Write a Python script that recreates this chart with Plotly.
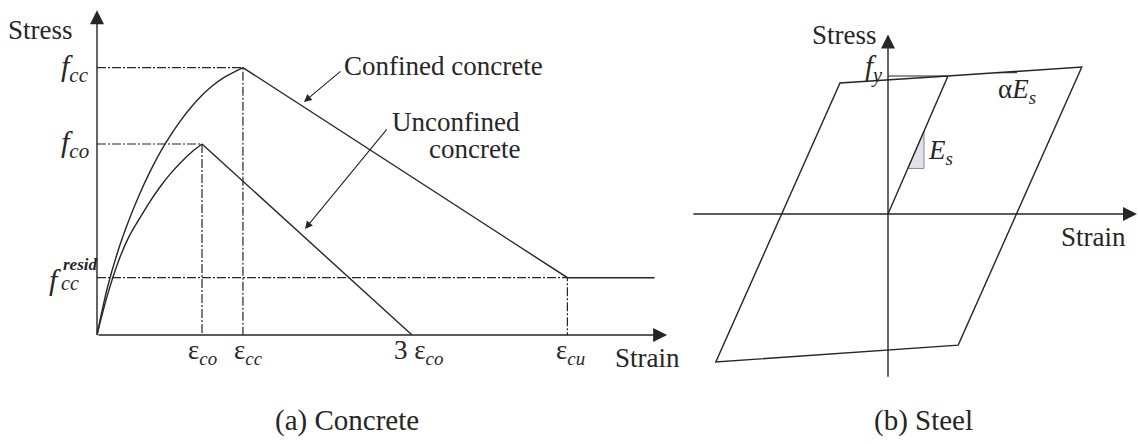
import plotly.graph_objects as go

# ---------------- data: concrete (strain / eps_co, stress / f_co) ----------------
eps_co = 1.0
eps_cc = 1.39
eps_cu = 4.48
eps_unconf_end = 3.0
eps_resid_end = 5.31
f_co = 1.0
f_cc = 1.40
f_resid = 0.30

conf_rise_strain = [0.0, 0.1, 0.2, 0.3, 0.4, 0.5, 0.6, 0.7, 0.8, 0.9, 1.0, 1.1, 1.2, 1.3, 1.39]
conf_rise_stress = [0.0, 0.25, 0.44, 0.595, 0.73, 0.85, 0.955, 1.045, 1.125, 1.195, 1.255, 1.305, 1.345, 1.375, 1.40]

unconf_rise_strain = [0.0, 0.1, 0.2, 0.3, 0.4, 0.5, 0.6, 0.7, 0.8, 0.9, 1.0]
unconf_rise_stress = [0.0, 0.21, 0.38, 0.51, 0.605, 0.695, 0.775, 0.845, 0.905, 0.957, 1.0]

# ---------------- data: steel (strain / eps_y, stress / f_y) ----------------
eps_y = 1.0
f_y = 1.0
loop_strain = [0.0, 1.0, 3.23, 1.17, -2.87, -0.80, 1.0]
loop_stress = [0.0, 1.0, 1.065, -0.95, -1.072, 0.949, 1.0]
es_tri_strain = [0.33, 0.60, 0.60, 0.33]
es_tri_stress = [0.33, 0.33, 0.60, 0.33]
alpha_strain = [1.82, 2.15]
alpha_stress = [1.024, 1.024]

# ---------------- drawing ----------------
W, H = 1138, 444
INK = "#262626"
FONT = "Liberation Serif"
LW = 1.4
DASH = "9px,2px,2px,2px"


def px(x):
    return x / W


def py(y):
    return 1 - y / H


fig = go.Figure()


def line(xs, ys, axes, dash=None, width=LW, shape="linear"):
    xa, ya = axes
    fig.add_trace(go.Scatter(
        x=xs, y=ys, xaxis=xa, yaxis=ya, mode="lines",
        line=dict(color=INK, width=width, dash=dash, shape=shape, smoothing=1.0),
        hoverinfo="skip", showlegend=False))


L = ("x", "y")
R = ("x2", "y2")

# reference lines
line([0, eps_cc, eps_cc], [f_cc, f_cc, 0], L, dash=DASH, width=1.2)
line([0, eps_co, eps_co], [f_co, f_co, 0], L, dash=DASH, width=1.2)
line([0, eps_cu, eps_cu], [f_resid, f_resid, 0], L, dash=DASH, width=1.2)

# confined concrete
line(conf_rise_strain, conf_rise_stress, L, shape="spline")
line([eps_cc, eps_cu, eps_resid_end], [f_cc, f_resid, f_resid], L)
# unconfined concrete
line(unconf_rise_strain, unconf_rise_stress, L, shape="spline")
line([eps_co, eps_unconf_end], [f_co, 0], L)

# steel
fig.add_trace(go.Scatter(
    x=es_tri_strain, y=es_tri_stress, xaxis="x2", yaxis="y2", mode="lines",
    fill="toself", fillcolor="#dfe2e8", line=dict(color="#8a8a8a", width=1),
    hoverinfo="skip", showlegend=False))
line(loop_strain, loop_stress, R)
line([0, eps_y], [f_y, f_y], R, width=1.1)
line(alpha_strain, alpha_stress, R, width=1.1)

ann = []


def arrow(x0, y0, x1, y1, xr, yr, head=2, size=1.0, width=LW):
    ann.append(dict(x=x1, y=y1, ax=x0, ay=y0, xref=xr, yref=yr, axref=xr, ayref=yr,
                    showarrow=True, arrowhead=head, arrowsize=size, arrowwidth=width,
                    arrowcolor=INK, text=""))


# axes with arrowheads
arrow(0, 0, 5.43, 0, "x", "y", size=2.0)
arrow(0, 0, 0, 1.70, "x", "y", size=2.0)
arrow(-3.27, 0, 4.15, 0, "x2", "y2", size=2.0)
arrow(0, -1.19, 0, 1.30, "x2", "y2", size=2.0)

# leaders
arrow(2.333, 1.387, 1.971, 1.220, "x", "y", size=1.4, width=1.1)
arrow(2.771, 1.084, 1.981, 0.555, "x", "y", size=1.4, width=1.1)


def text(s, x, y, xr="paper", yr="paper", xa="center", ya="middle", size=27, yshift=0, xshift=0):
    ann.append(dict(text=s, x=x, y=y, xref=xr, yref=yr, xanchor=xa, yanchor=ya,
                    showarrow=False, yshift=yshift, xshift=xshift,
                    font=dict(family=FONT, size=size, color=INK)))


# concrete labels
text("Stress", px(75), py(30), xa="right")
text("Strain", px(613), py(358), xa="left")
text("Confined concrete", px(342), py(66), xa="left")
text("Unconfined", px(522), py(122), xa="right")
text("concrete", px(522), py(149), xa="right")
text("<i>f</i><sub><i>cc</i></sub>", px(91), f_cc, yr="y", xa="right", size=30)
text("<i>f</i><sub><i>co</i></sub>", px(91), f_co, yr="y", xa="right", size=30)
text("<i>f</i>", px(63), f_resid, yr="y", xa="right", size=30, yshift=-2)
text("<i><b>resid</b></i>", px(61), f_resid, yr="y", xa="left", size=17, yshift=13)
text("<i>cc</i>", px(59), f_resid, yr="y", xa="left", size=20, yshift=-5)
text("ε<sub><i>co</i></sub>", eps_co, 0, xr="x", yr="y", size=27, yshift=-17)
text("ε<sub><i>cc</i></sub>", eps_cc, 0, xr="x", yr="y", size=27, yshift=-17, xshift=6)
text("3 ε<sub><i>co</i></sub>", eps_unconf_end, 0, xr="x", yr="y", size=27, yshift=-17, xshift=6)
text("ε<sub><i>cu</i></sub>", eps_cu, 0, xr="x", yr="y", size=27, yshift=-17, xshift=3)

# steel labels
text("Stress", px(879), py(35), xa="right")
text("Strain", px(1059), py(237), xa="left")
text("<i>f</i><sub><i>y</i></sub>", px(885), f_y, yr="y2", xa="right", size=29, yshift=8)
text("α<i>E</i><sub><i>s</i></sub>", px(996), py(91), xa="left", size=27)
text("<i>E</i><sub><i>s</i></sub>", px(926), py(152), xa="left", size=27)

# captions
text("(a) Concrete", px(347), py(420), size=29)
text("(b) Steel", px(923), py(420), size=29)

hidden = dict(visible=False, showgrid=False, zeroline=False, fixedrange=True)
fig.update_layout(
    width=W, height=H, margin=dict(l=0, r=0, t=0, b=0),
    paper_bgcolor="white", plot_bgcolor="white",
    font=dict(family=FONT, size=27, color=INK),
    xaxis=dict(domain=[0, 680 / W], range=[-97 / 105, (680 - 97) / 105], **hidden),
    yaxis=dict(domain=[0, 1], range=[-(H - 335) / 191, 335 / 191], **hidden),
    xaxis2=dict(domain=[680 / W, 1], range=[-(888 - 680) / 60, (W - 888) / 60], anchor="y2", **hidden),
    yaxis2=dict(domain=[0, 1], range=[-(H - 214) / 138, 214 / 138], anchor="x2", **hidden),
    annotations=ann,
)

fig.write_html("out.html")
